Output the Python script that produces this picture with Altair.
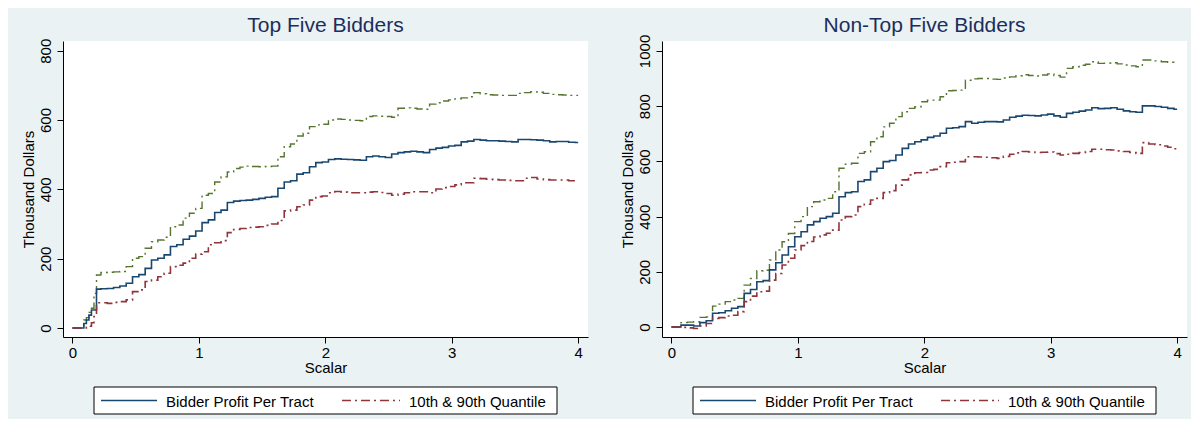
import altair as alt
import pandas as pd

# ---------------- data ----------------
X_TOP = [0, 0.08, 0.1, 0.12, 0.14, 0.16, 0.18,
         0.2, 0.25, 0.3, 0.35, 0.4, 0.45, 0.5, 0.55, 0.6, 0.65, 0.7, 0.75, 0.8, 0.85, 0.9, 0.95,
         1.0, 1.05, 1.1, 1.15, 1.2, 1.25, 1.3, 1.35, 1.4, 1.45, 1.5, 1.55, 1.6, 1.65, 1.7, 1.75, 1.8, 1.85, 1.9, 1.95,
         2.0, 2.05, 2.1, 2.15, 2.2, 2.25, 2.3, 2.35, 2.4, 2.45, 2.5, 2.55, 2.6, 2.65, 2.7, 2.75, 2.8, 2.85, 2.9, 2.95,
         3.0, 3.05, 3.1, 3.15, 3.2, 3.25, 3.3, 3.35, 3.4, 3.45, 3.5, 3.55, 3.6, 3.65, 3.7, 3.75, 3.8, 3.85, 3.9, 3.95,
         4.0]
TOP_MEAN = [0, 0, 13, 23, 37, 52, 52,
            112, 113, 114, 117, 121, 129, 148, 154, 172, 196, 201, 211, 235, 240, 256, 265,
            280, 304, 312, 333, 340, 362, 366, 368, 369, 371, 374, 377, 379, 403, 421, 425, 444, 448, 465, 477,
            479, 486, 488, 487, 486, 485, 484, 494, 496, 494, 492, 502, 506, 508, 510, 508, 506, 515, 519, 521,
            525, 527, 537, 539, 544, 542, 540, 540, 539, 538, 537, 544, 544, 543, 542, 540, 537, 538, 538, 536,
            535]
TOP_P90 = [0, 0, 23, 30, 45, 57, 100,
           153, 160, 161, 162, 163, 177, 201, 206, 230, 249, 254, 262, 292, 297, 317, 331,
           345, 383, 388, 421, 436, 450, 460, 464, 467, 466, 465, 466, 467, 494, 523, 531, 554, 562, 581, 586,
           588, 600, 603, 602, 600, 599, 598, 610, 612, 611, 610, 608, 634, 635, 634, 632, 631, 646, 650, 655,
           658, 661, 664, 667, 679, 676, 673, 672, 671, 671, 671, 677, 679, 682, 680, 677, 674, 673, 672, 671,
           671]
TOP_P10 = [0, 0, 0, 2, 5, 15, 33,
           73, 73, 71, 74, 76, 81, 105, 110, 134, 138, 148, 158, 177, 181, 187, 201,
           213, 220, 240, 246, 252, 275, 284, 287, 290, 291, 292, 296, 300, 310, 338, 340, 350, 355, 369, 379,
           381, 390, 394, 392, 390, 390, 390, 392, 393, 391, 388, 383, 386, 390, 393, 393, 393, 390, 401, 405,
           408, 413, 419, 419, 432, 431, 429, 428, 427, 426, 425, 425, 432, 434, 430, 428, 427, 427, 427, 425,
           424]

X_NON = [0, 0.05, 0.1, 0.15, 0.2, 0.25, 0.3, 0.35, 0.4, 0.45, 0.5, 0.55, 0.6, 0.65, 0.7, 0.75, 0.8, 0.85, 0.9, 0.95,
         1.0, 1.05, 1.1, 1.15, 1.2, 1.25, 1.3, 1.35, 1.4, 1.45, 1.5, 1.55, 1.6, 1.65, 1.7, 1.75, 1.8, 1.85, 1.9, 1.95,
         2.0, 2.05, 2.1, 2.15, 2.2, 2.25, 2.3, 2.35, 2.4, 2.45, 2.5, 2.55, 2.6, 2.65, 2.7, 2.75, 2.8, 2.85, 2.9, 2.95,
         3.0, 3.05, 3.1, 3.15, 3.2, 3.25, 3.3, 3.35, 3.4, 3.45, 3.5, 3.55, 3.6, 3.65, 3.7, 3.75, 3.8, 3.85, 3.9, 3.95,
         4.0]
NON_MEAN = [0, 0, 7, 7, 4, 16, 23, 50, 52, 59, 68, 74, 122, 136, 164, 168, 207, 233, 261, 291,
            327, 345, 370, 382, 394, 400, 412, 472, 487, 490, 527, 533, 563, 575, 599, 603, 623, 647, 663, 671,
            678, 687, 692, 702, 720, 722, 726, 744, 738, 742, 744, 744, 743, 750, 760, 764, 767, 766, 765, 768,
            771, 765, 760, 774, 778, 782, 786, 794, 791, 792, 794, 789, 783, 780, 778, 801, 801, 799, 796, 792,
            789]
NON_P90 = [0, 0, 16, 18, 19, 35, 37, 76, 83, 92, 98, 104, 152, 176, 204, 206, 243, 279, 309, 339,
           382, 400, 436, 454, 460, 466, 490, 575, 590, 593, 629, 635, 671, 689, 725, 738, 762, 780, 792, 798,
           816, 822, 822, 834, 856, 857, 858, 894, 899, 900, 900, 898, 897, 902, 906, 910, 914, 911, 909, 913,
           917, 911, 905, 937, 943, 948, 952, 961, 955, 956, 957, 953, 949, 946, 943, 967, 967, 964, 961, 959,
           958]
NON_P10 = [0, 0, -1, -3, -5, 4, 13, 31, 34, 40, 43, 56, 92, 112, 128, 130, 170, 194, 225, 249,
           279, 295, 310, 326, 334, 340, 351, 388, 400, 406, 436, 445, 460, 466, 487, 494, 514, 533, 551, 559,
           560, 569, 571, 581, 595, 597, 599, 617, 617, 616, 615, 613, 611, 618, 626, 631, 636, 634, 632, 633,
           634, 628, 623, 626, 629, 632, 636, 644, 644, 642, 641, 638, 636, 632, 629, 668, 663, 660, 656, 651,
           646]

SERIES = ["Bidder Profit Per Tract", "10th & 90th Quantile"]
X_TICKS = [0, 1, 2, 3, 4]
TOP_TICKS = [0, 200, 400, 600, 800]
NON_TICKS = [0, 200, 400, 600, 800, 1000]

NAVY = "#1A476F"
MAROON = "#90353B"
GREEN = "#55752F"
BG = "#EAF2F3"
TITLE_C = "#1C2E5C"
FONT = "Liberation Sans"
DASHDOT = [9, 4, 2, 4]

# legend box layout (pixels relative to the plot area)
LEG_X0, LEG_X1, LEG_Y0, LEG_Y1 = 31, 494, 346, 373
LEG_YC = 359.5
SYM1 = (38, 94)
LAB1 = 103
SYM2 = (279, 337)
LAB2 = 346


def legend_layers():
    one = pd.DataFrame({"k": [0]})
    box = alt.Chart(one).mark_rect(fill="white", stroke="black", strokeWidth=1).encode(
        x=alt.value(LEG_X0), x2=alt.value(LEG_X1), y=alt.value(LEG_Y0), y2=alt.value(LEG_Y1))
    s1 = alt.Chart(one).mark_rule(color=NAVY, strokeWidth=1.5).encode(
        x=alt.value(SYM1[0]), x2=alt.value(SYM1[1]), y=alt.value(LEG_YC))
    s2 = alt.Chart(one).mark_rule(color=MAROON, strokeWidth=1.5, strokeDash=DASHDOT).encode(
        x=alt.value(SYM2[0]), x2=alt.value(SYM2[1]), y=alt.value(LEG_YC))
    t1 = alt.Chart(pd.DataFrame({"label": [SERIES[0]]})).mark_text(
        align="left", baseline="middle", font=FONT, fontSize=15, color="black").encode(
        x=alt.value(LAB1), y=alt.value(LEG_YC + 1), text="label:N")
    t2 = alt.Chart(pd.DataFrame({"label": [SERIES[1]]})).mark_text(
        align="left", baseline="middle", font=FONT, fontSize=15, color="black").encode(
        x=alt.value(LAB2), y=alt.value(LEG_YC + 1), text="label:N")
    return [box, s1, s2, t1, t2]


def panel(title, xs, mean, p10, p90, ydomain, yticks, title_offset):
    main = pd.DataFrame({
        "x": list(xs) + list(xs),
        "v": list(mean) + list(p10),
        "series": [SERIES[0]] * len(xs) + [SERIES[1]] * len(xs),
    })
    upper = pd.DataFrame({"x": xs, "v": p90})
    xenc = alt.X("x:Q", scale=alt.Scale(domain=[-0.075, 4.078], nice=False, zero=False),
                 axis=alt.Axis(values=X_TICKS, title="Scalar", format="d"))
    yenc = alt.Y("v:Q", scale=alt.Scale(domain=ydomain, nice=False, zero=False),
                 axis=alt.Axis(values=yticks, title="Thousand Dollars", labelAngle=-90, format="d",
                               labelAlign="center", labelBaseline="bottom"))
    lines = alt.Chart(main).mark_line(clip=True, interpolate="step", strokeWidth=1.6).encode(
        x=xenc, y=yenc,
        color=alt.Color("series:N", scale=alt.Scale(domain=SERIES, range=[NAVY, MAROON]), legend=None),
        strokeDash=alt.StrokeDash("series:N", scale=alt.Scale(domain=SERIES, range=[[1, 0], DASHDOT]),
                                  legend=None),
    )
    up = alt.Chart(upper).mark_line(clip=True, interpolate="step", strokeWidth=1.4,
                                    color=GREEN, strokeDash=DASHDOT).encode(x=xenc, y=yenc)
    return alt.layer(up, lines, *legend_layers()).properties(
        width=525, height=296,
        title=alt.TitleParams(title, fontSize=21, font=FONT, fontWeight="normal", color=TITLE_C,
                              offset=title_offset),
    )


left = panel("Top Five Bidders", X_TOP, TOP_MEAN, TOP_P10, TOP_P90, [-26, 828], TOP_TICKS, 2)
right = panel("Non-Top Five Bidders", X_NON, NON_MEAN, NON_P10, NON_P90, [-36, 1036], NON_TICKS, -2)

chart = alt.hconcat(left, right, spacing=31).resolve_scale(
    color="independent", strokeDash="independent"
).properties(
    background=BG, padding={"left": 13, "top": 7, "right": 4, "bottom": 4}
).configure_view(fill="white", stroke=None).configure_axis(
    grid=False, domainColor="black", tickColor="black", labelColor="black", titleColor="black",
    labelFont=FONT, titleFont=FONT, labelFontSize=15, titleFontSize=15, titleFontWeight="normal",
    tickSize=6, labelPadding=4, domainWidth=1, tickWidth=1
).configure_axisX(labelPadding=2, titlePadding=0).configure_axisY(titlePadding=2)

chart.save("out.html", embed_options={"renderer": "svg", "actions": False})
